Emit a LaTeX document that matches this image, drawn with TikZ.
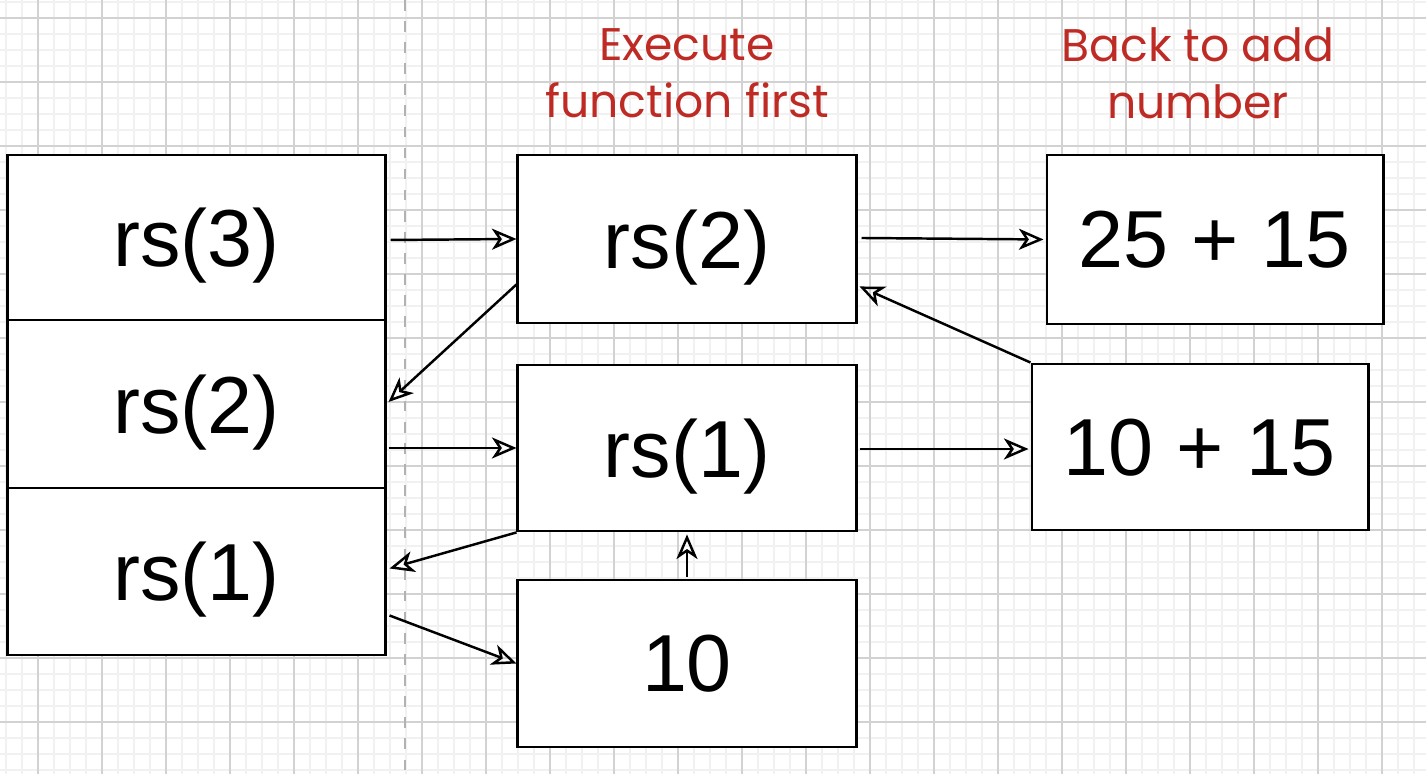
\documentclass[tikz,border=0pt]{standalone}
\usepackage{fontspec}
\setmainfont{Liberation Sans}
\newfontfamily\handfont{Poppins}
\usetikzlibrary{arrows.meta,calc}

\definecolor{notered}{HTML}{BE2B25}
\definecolor{minorgrid}{HTML}{F1F1F1}
\definecolor{majorgrid}{HTML}{D2D2D2}

\begin{document}
\begin{tikzpicture}[x=0.01cm, y=-0.01cm,
  frame/.style={draw=black, line width=0.8pt, fill=white, inner sep=0pt, text depth=0pt,
    font=\fontsize{23}{27}\selectfont},
  call/.style={-{Stealth[open,length=7pt,width=6pt,inset=2pt]}, line width=0.7pt},
  note/.style={text=notered, font=\handfont\fontsize{13}{16.2}\selectfont, align=center}]
\useasboundingbox (0,0) rectangle (1426,774);
% background grid
\fill[white] (0,0) rectangle (1426,774);
\foreach \x in {6,22,...,1426} \draw[minorgrid, line width=0.4pt] (\x,0) -- (\x,774);
\foreach \y in {2,18,...,774} \draw[minorgrid, line width=0.4pt] (0,\y) -- (1426,\y);
\foreach \x in {38,102,...,1426} \draw[majorgrid, line width=0.4pt] (\x,0) -- (\x,774);
\foreach \y in {18,82,...,774} \draw[majorgrid, line width=0.4pt] (0,\y) -- (1426,\y);
\draw[gray!60, dashed, line width=0.5pt] (405,0) -- (405,774);

% stack
\node[frame, minimum width=3.77cm, minimum height=1.65cm] (s3) at (196.5,237.5) {rs(3)};
\node[frame, minimum width=3.77cm, minimum height=1.68cm] (s2) at (196.5,404) {rs(2)};
\node[frame, minimum width=3.77cm, minimum height=1.67cm] (s1) at (196.5,571.5) {rs(1)};

% calls
\node[frame, minimum width=3.38cm, minimum height=1.68cm] (f2) at (687,239) {rs(2)};
\node[frame, minimum width=3.38cm, minimum height=1.66cm] (f1) at (687,448) {rs(1)};
\node[frame, minimum width=3.38cm, minimum height=1.67cm] (ten) at (687,663.5) {10};

% sums
\node[frame, minimum width=3.36cm, minimum height=1.69cm] (sum2) at (1215,239.5) {25 + 15};
\node[frame, minimum width=3.36cm, minimum height=1.66cm] (sum1) at (1200,447) {10 + 15};

\node[note] (exec) at (687,73.5) {Execute\\function first};
\node[note] (back) at (1198,73.5) {Back to add\\number};

\draw[call] ($(s3.east)+(4,2.5)$) -- (f2.west);
\draw[call] ($(f2.south west)+(0,-40)$) -- ($(s2.east)+(2,-2)$);
\draw[call] ($(s2.east)+(2,44)$) -- (f1.west);
\draw[call] (f1.south west) -- ($(s1.east)+(3,-3)$);
\draw[call] ($(s1.east)+(3,44)$) -- (ten.west);
\draw[call] ($(ten.north)+(0,-2)$) -- ($(f1.south)+(0,2)$);
\draw[call] ($(f2.east)+(4,-1)$) -- ($(sum2.west)+(-2,0)$);
\draw[call] ($(f1.east)+(2,1)$) -- ($(sum1.west)+(-2,2)$);
\draw[call] (sum1.north west) -- ($(f2.south east)+(2,-38)$);
\end{tikzpicture}
\end{document}
